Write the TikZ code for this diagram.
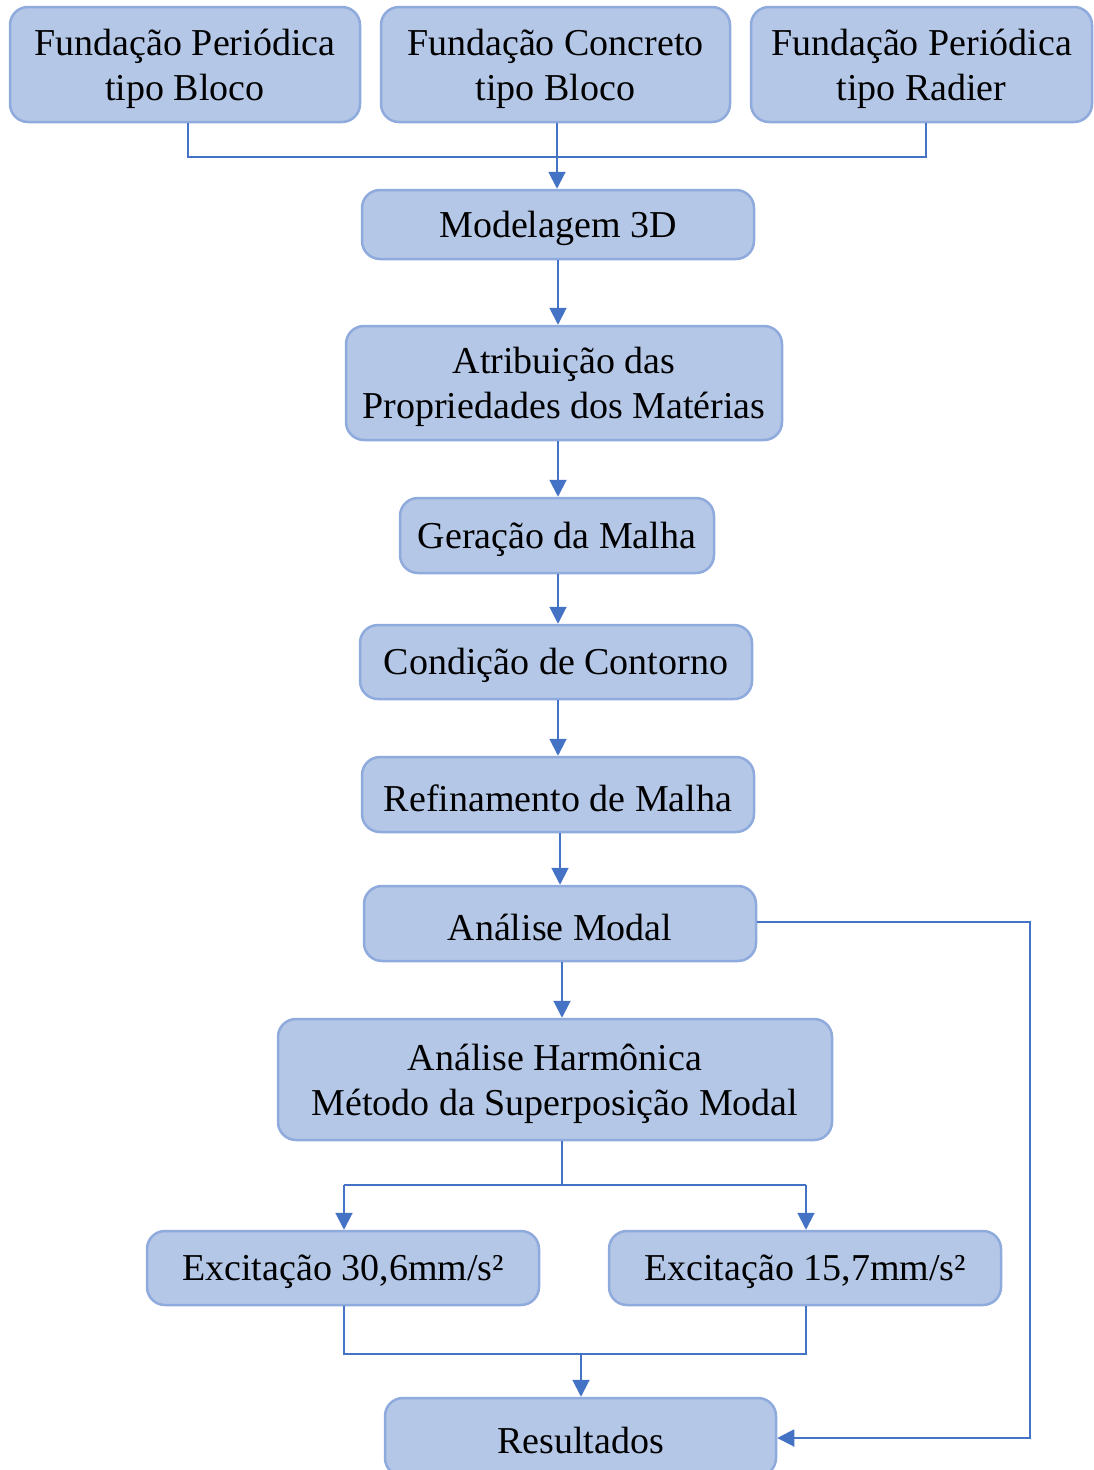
\documentclass[tikz,border=0pt]{standalone}
\usepackage{fontspec}
\setmainfont{Liberation Serif}
\usetikzlibrary{arrows.meta}
\definecolor{boxfill}{HTML}{B4C7E7}
\definecolor{boxline}{HTML}{8FAADC}
\definecolor{arr}{HTML}{4472C4}
\newcommand\firststrut{\rule{0pt}{35pt}}
\begin{document}
\begin{tikzpicture}[x=1pt,y=-1pt,
  stepbox/.style={draw=boxline,fill=boxfill,line width=2.5pt,rounded corners=18pt,
    inner sep=0pt,align=center,font=\fontsize{38}{45}\selectfont,
    execute at begin node={\rule{0pt}{34pt}}},
  conn/.style={draw=arr,line width=2pt},
  arrw/.style={conn,-{Triangle[length=17pt,width=17pt]}}]
\useasboundingbox (0,0) rectangle (1094,1470);
\node[stepbox,minimum width=350pt,minimum height=115pt] (a) at (185,64.5) {\firststrut Fundação Periódica\\tipo Bloco};
\node[stepbox,minimum width=349pt,minimum height=115pt] (b) at (555.5,64.5) {\firststrut Fundação Concreto\\tipo Bloco};
\node[stepbox,minimum width=341pt,minimum height=115pt] (c) at (921.5,64.5) {\firststrut Fundação Periódica\\tipo Radier};
\node[stepbox,minimum width=392pt,minimum height=69pt] (d) at (558,224.5) {Modelagem 3D};
\node[stepbox,minimum width=436pt,minimum height=114pt] (e) at (564,383) {\firststrut Atribuição das\\Propriedades dos Matérias};
\node[stepbox,minimum width=314pt,minimum height=75pt] (f) at (557,535.5) {Geração da Malha};
\node[stepbox,minimum width=392pt,minimum height=74pt] (g) at (556,662) {Condição de Contorno};
\node[stepbox,minimum width=392pt,minimum height=75pt] (h) at (558,794.5) {Refinamento de Malha};
\node[stepbox,minimum width=392pt,minimum height=75pt] (i) at (560,923.5) {Análise Modal};
\node[stepbox,minimum width=554pt,minimum height=121pt] (j) at (555,1079.5) {\firststrut Análise Harmônica\\Método da Superposição Modal};
\node[stepbox,minimum width=392pt,minimum height=74pt] (k) at (343,1268) {Excitação 30,6mm/s²};
\node[stepbox,minimum width=392pt,minimum height=74pt] (l) at (805,1268) {Excitação 15,7mm/s²};
\node[stepbox,minimum width=391pt,minimum height=78pt] (m) at (580.5,1437) {Resultados};
\coordinate (t1) at (188,157);
\coordinate (t3) at (926,157);
\coordinate (s1) at (344,1185);
\coordinate (s2) at (806,1185);
\coordinate (u1) at (344,1354);
\coordinate (u2) at (806,1354);
\coordinate (r1) at (1030,922);
\coordinate (r2) at (1030,1438);
\draw[conn] (a.south -| t1) -- (t1) -- (t3) -- (c.south -| t3);
\draw[arrw] (b.south -| 557,0) -- (d.north -| 557,0);
\draw[arrw] (d.south -| 558,0) -- (e.north -| 558,0);
\draw[arrw] (e.south -| 558,0) -- (f.north -| 558,0);
\draw[arrw] (f.south -| 558,0) -- (g.north -| 558,0);
\draw[arrw] (g.south -| 558,0) -- (h.north -| 558,0);
\draw[arrw] (h.south -| 560,0) -- (i.north -| 560,0);
\draw[arrw] (i.south -| 562,0) -- (j.north -| 562,0);
\draw[conn] (j.south -| 562,0) -- (562,1185);
\draw[conn] (s1) -- (s2);
\draw[arrw] (s1) -- (k.north -| s1);
\draw[arrw] (s2) -- (l.north -| s2);
\draw[conn] (k.south -| u1) -- (u1) -- (u2) -- (l.south -| u2);
\draw[arrw] (581,1354) -- (m.north -| 581,0);
\draw[arrw] (i.east |- r1) -- (r1) -- (r2) -- (m.east |- r2);
\end{tikzpicture}
\end{document}
